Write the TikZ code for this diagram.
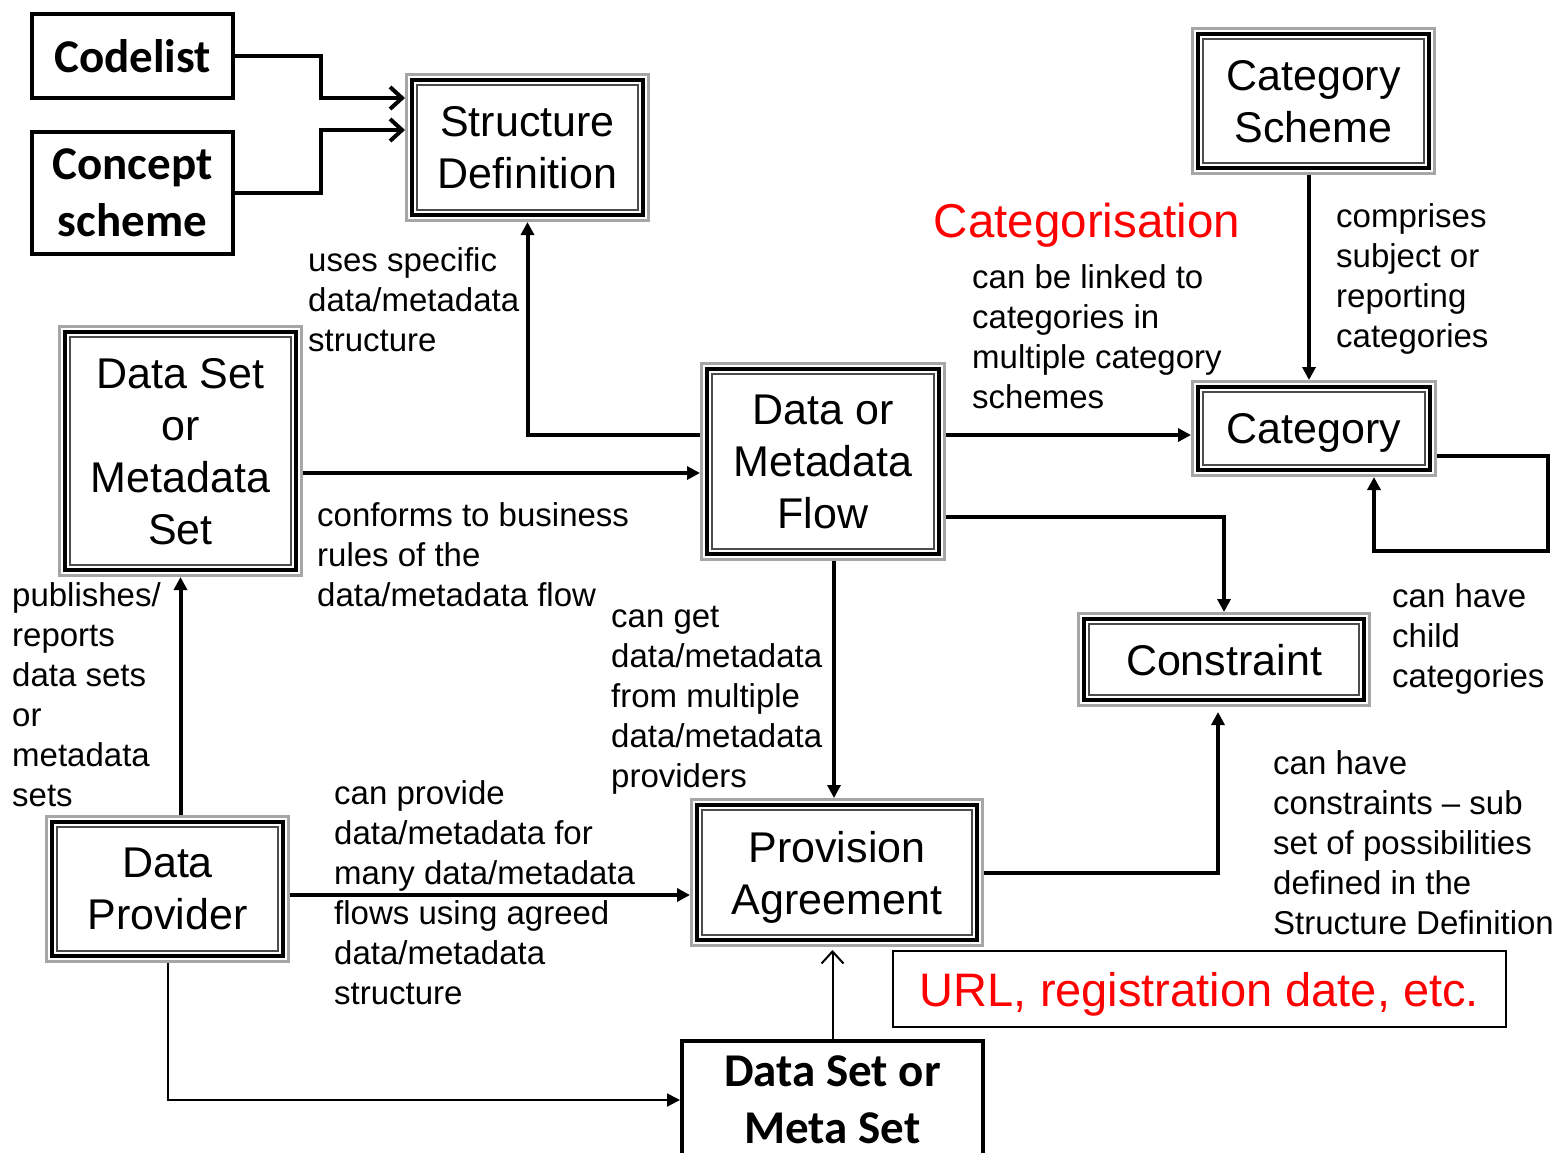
\documentclass[tikz,border=0pt]{standalone}
\usepackage{fontspec}
\setmainfont{Liberation Sans}
\newfontfamily\carl{Carlito}
\usetikzlibrary{arrows.meta,calc}
\newcommand\bxf{\fontsize{43}{52}\selectfont}
\newcommand\lbf{\fontsize{33}{40}\selectfont}
\newcommand\cbf{\carl\bfseries\fontsize{47}{57}\selectfont}
\begin{document}
\begin{tikzpicture}[x=1pt,y=-1pt,
  tbox/.style={draw=black, line width=4.5pt, fill=white, align=center, inner sep=0pt, outer sep=7pt, font=\bxf, text depth=-4pt},
  bbox/.style={draw=black, line width=4pt, fill=white, align=center, inner sep=0pt, font=\cbf},
  lab/.style={align=left, anchor=west, inner sep=0pt, font=\lbf, text depth=0pt},
  conn/.style={line width=4pt, -{Triangle[length=13pt,width=13pt]}},
  thinconn/.style={line width=2pt, -{Triangle[length=13pt,width=13pt]}},
  barb/.style={line width=4pt, -{Straight Barb[length=12pt,width=22pt,line width=4pt]}},
  thinbarb/.style={line width=2pt, -{Straight Barb[length=12pt,width=22pt,line width=2pt]}}
]
\useasboundingbox (0,0) rectangle (1562,1152);
\fill[white] (0,0) rectangle (1562,1152);

% triple-framed boxes
\node[tbox, minimum width=231, minimum height=135] (sd) at (527.5,147.5) {Structure\\Definition};
\node[tbox, minimum width=231, minimum height=134] (csch) at (1313.5,101) {Category\\Scheme};
\node[tbox, minimum width=231, minimum height=238] (dsms) at (180.5,451) {Data Set\\or\\Metadata\\Set};
\node[tbox, minimum width=232, minimum height=185] (flow) at (823,461.5) {Data or\\Metadata\\Flow};
\node[tbox, minimum width=232, minimum height=83] (cat) at (1314,428.5) {Category};
\node[tbox, minimum width=280, minimum height=81] (con) at (1224,659.5) {Constraint};
\node[tbox, minimum width=280, minimum height=135] (pa) at (837,872.5) {Provision\\Agreement};
\node[tbox, minimum width=231, minimum height=134] (dp) at (167.5,889) {Data\\Provider};

\foreach \n in {sd,csch,dsms,flow,cat,con,pa,dp}{
  \draw[gray!70, line width=3pt] ([xshift=1.5pt,yshift=1.5pt]\n.south west) rectangle ([xshift=-1.5pt,yshift=-1.5pt]\n.north east);
  \draw[gray!60!black, line width=1.6pt] ([xshift=12pt,yshift=12pt]\n.south west) rectangle ([xshift=-12pt,yshift=-12pt]\n.north east);
}

% bold single boxes
\node[bbox, minimum width=201, minimum height=84] (codelist) at (132.5,56) {Codelist};
\node[bbox, minimum width=201, minimum height=122] (conc) at (132.5,193) {Concept\\scheme};
\node[bbox, minimum width=301, minimum height=118] (dsm) at (832.5,1100) {Data Set or\\Meta Set};

% red texts
\node[text=red, font=\fontsize{47.5}{56}\selectfont, inner sep=0pt, text depth=0pt] (catg) at (1087,220) {Categorisation};
\node[draw=black, line width=2pt, text=red, font=\fontsize{47}{56}\selectfont, minimum width=613, minimum height=76, inner sep=0pt, text depth=0pt] (url) at (1199.5,989) {URL, registration date, etc.};

% labels
\node[lab] (l1) at (308,300) {uses specific\\data/metadata\\structure};
\node[lab] (l2) at (317,555) {conforms to business\\rules of the\\data/metadata flow};
\node[lab] (l3) at (12,694.5) {publishes/\\reports\\data sets\\or\\metadata\\sets};
\node[lab] (l4) at (611,697) {can get\\data/metadata\\from multiple\\data/metadata\\providers};
\node[lab] (l5) at (334,892.5) {can provide\\data/metadata for\\many data/metadata\\flows using agreed\\data/metadata\\structure};
\node[lab] (l6) at (972,337) {can be linked to\\categories in\\multiple category\\schemes};
\node[lab] (l7) at (1336,276) {comprises\\subject or\\reporting\\categories};
\node[lab] (l8) at (1392,636) {can have\\child\\categories};
\node[lab] (l9) at (1273,843) {can have\\constraints – sub\\set of possibilities\\defined in the\\Structure Definition};

% connectors
\draw[barb] (codelist.east) -- ++(86,0) |- ([yshift=49.5pt]sd.west);
\draw[barb] (conc.east) -- ++(86,0) |- ([yshift=17.5pt]sd.west);

\coordinate (fw) at ([yshift=26.5pt]flow.west);
\draw[conn] (fw) -| (sd.south);

\coordinate (de) at ([yshift=-22pt]dsms.east);
\draw[conn] (de) -- (de -| flow.west);

\coordinate (fe1) at ([yshift=26.5pt]flow.east);
\draw[conn] (fe1) -- (fe1 -| cat.west);

\coordinate (cs) at ([xshift=-4.5pt]csch.south);
\draw[conn] (cs) -- (cs |- cat.north);

\draw[conn] ([yshift=-27.5pt]cat.east) -- ++(111,0) -- ++(0,95) -| ([xshift=60pt]cat.south);

\draw[conn] ([yshift=-55.5pt]flow.east) -| (con.north);

\coordinate (fs) at ([xshift=11pt]flow.south);
\draw[conn] (fs) -- (fs |- pa.north);

\draw[conn] (pa.east) -| ([xshift=-6pt,yshift=-5pt]con.south);

\coordinate (dn) at ([xshift=13pt]dp.north);
\draw[conn] (dn) -- (dn |- dsms.south);

\coordinate (dpe) at ([yshift=-6pt]dp.east);
\draw[conn] (dpe) -- (dpe -| pa.west);

\draw[thinconn] (dp.south) |- (dsm.west);

\coordinate (dsn) at (dsm.north);
\draw[thinbarb] (dsn) -- ([yshift=-3pt]dsn |- pa.south);
\end{tikzpicture}
\end{document}
